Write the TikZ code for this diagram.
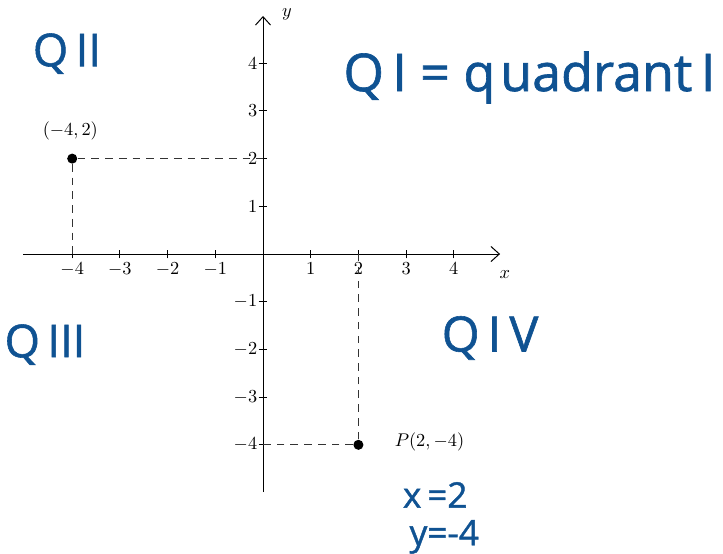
\documentclass[tikz,border=0pt]{standalone}
\usepackage{fontspec}
\newfontfamily\hand{Open Sans}[FakeBold=1.2]
\usetikzlibrary{arrows.meta}
\definecolor{ink}{HTML}{0F5292}
\tikzset{
  axis/.style={line width=0.6pt, -{Straight Barb[length=5pt,width=9pt]}},
  tick/.style={line width=0.6pt},
  guide/.style={line width=0.6pt, dash pattern=on 4.6pt off 3.6pt, black!80},
  dot/.style={circle, fill=black, inner sep=0pt, minimum size=6pt},
  lab/.style={font=\fontsize{11}{13}\selectfont, inner sep=1pt},
  handw/.style={text=ink, inner sep=0pt},
}
\begin{document}
\begin{tikzpicture}[x=1cm,y=1cm]
\useasboundingbox (-5.514,-6.289) rectangle (9.643,5.325);
% axes
\coordinate (xs) at (-5.03,0);
\coordinate (xe) at (4.97,0);
\coordinate (ys) at (0,-4.99);
\coordinate (ye) at (0,4.99);
\draw[axis] (xs) -- (xe);
\draw[axis] (ys) -- (ye);
\node[lab, anchor=west] (xl) at (4.92,-0.44) {$x$};
\node[lab] (yl) at (0.5,5.03) {$y$};
% ticks
\foreach \i in {-4,-3,-2,-1,1,2,3,4} {
  \draw[tick] (\i,-0.09) -- (\i,0.09);
  \draw[tick] (-0.09,\i) -- (0.09,\i);
  \node[lab, anchor=north] (tx\i) at (\i,-0.13) {$\i$};
  \node[lab, anchor=east] (ty\i) at (-0.08,\i) {$\i$};
}
% points
\node[dot] (A) at (-4,2) {};
\node[dot] (P) at (2,-4) {};
\coordinate (Ay) at (0,2);
\coordinate (Ax) at (-4,0);
\coordinate (Py) at (0,-4);
\coordinate (Px) at (2,0);
\draw[guide] (A) -- (Ay);
\draw[guide] (A) -- (Ax);
\draw[guide] (P) -- (Py);
\draw[guide] (P) -- (Px);
\node[lab] (Al) at (-4.04,2.58) {$(-4,2)$};
\node[lab, anchor=west] (Pl) at (2.72,-3.93) {$P(2,-4)$};
% handwritten notes
\node[handw, font=\hand\fontsize{27}{27}\selectfont] (q2) at (-4.11,4.2) {Q\,II};
\node[handw, font=\hand\fontsize{31}{31}\selectfont, anchor=west] (q1) at (1.68,3.7) {Q\hspace{5pt}I\hspace{8pt}=\hspace{8pt}q\hspace{3pt}uadrant\,I};
\node[handw, font=\hand\fontsize{27}{27}\selectfont] (q3) at (-4.57,-1.9) {Q\,III};
\node[handw, font=\hand\fontsize{29}{29}\selectfont] (q4) at (4.76,-1.76) {Q\,I\,V};
\node[handw, font=\hand\fontsize{21}{21}\selectfont] (xe2) at (3.61,-5.05) {x\,=2};
\node[handw, font=\hand\fontsize{21}{21}\selectfont] (ye4) at (3.80,-5.93) {y=-4};
\end{tikzpicture}
\end{document}
